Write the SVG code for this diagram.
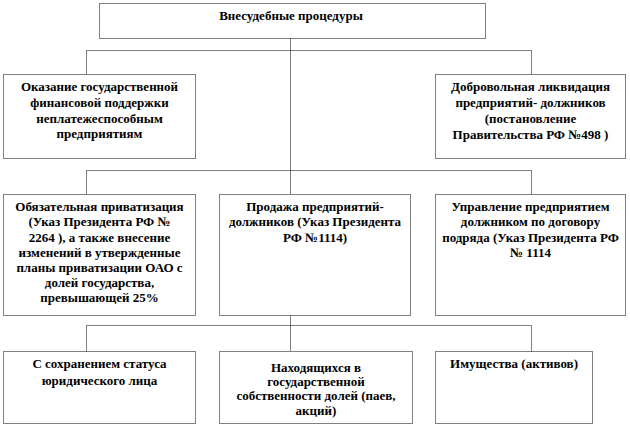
<svg xmlns="http://www.w3.org/2000/svg" width="630" height="426" viewBox="0 0 630 426">
<style>
.box{fill:#fff;stroke:#000;stroke-width:1;stroke-dasharray:1 1}
.ln{fill:none;stroke:#000;stroke-width:1;stroke-dasharray:1 1}
</style>
<rect width="630" height="426" fill="#fff"/>
<g id="connectors">
<path class="ln" d="M290.5 38.5V194.5"/>
<path class="ln" d="M86.5 74.5V50.5H531.5V74.5"/>
<path class="ln" d="M86.5 194.5V170.5H531.5V194.5"/>
<path class="ln" d="M290.5 315.5V351.5"/>
<path class="ln" d="M86.5 351.5V325.5H531.5V351.5"/>
</g>
<g font-family="Liberation Serif, serif" font-weight="bold" font-size="13" text-anchor="middle" fill="#000">
<g id="top">
<rect class="box" x="99.5" y="3.5" width="386" height="35"/>
<text x="291" y="20">Внесудебные  процедуры</text>
</g>
<g id="support">
<rect class="box" x="3.5" y="74.5" width="192" height="84"/>
<text x="99.5" y="91">Оказание  государственной</text>
<text x="99.5" y="107">финансовой поддержки</text>
<text x="99.5" y="123">неплатежеспособным</text>
<text x="99.5" y="138">предприятиям</text>
</g>
<g id="liquidation">
<rect class="box" x="435.5" y="74.5" width="190" height="84"/>
<text x="530.5" y="91">Добровольная ликвидация</text>
<text x="530.5" y="107">предприятий-  должников</text>
<text x="530.5" y="123">(постановление</text>
<text x="530.5" y="139">Правительства  РФ  №498  )</text>
</g>
<g id="privatization">
<rect class="box" x="3.5" y="194.5" width="192" height="121"/>
<text x="99.5" y="211">Обязательная  приватизация</text>
<text x="99.5" y="226">(Указ Президента РФ №</text>
<text x="99.5" y="242">2264  ), а также внесение</text>
<text x="99.5" y="257">изменений в утвержденные</text>
<text x="99.5" y="272">планы приватизации ОАО с</text>
<text x="99.5" y="287">долей государства,</text>
<text x="99.5" y="302">превышающей 25%</text>
</g>
<g id="sale">
<rect class="box" x="219.5" y="194.5" width="191" height="121"/>
<text x="315" y="211">Продажа предприятий-</text>
<text x="315" y="226">должников (Указ Президента</text>
<text x="315" y="242">РФ №1114)</text>
</g>
<g id="management">
<rect class="box" x="435.5" y="194.5" width="190" height="121"/>
<text x="530.5" y="211">Управление  предприятием</text>
<text x="530.5" y="226">должником по договору</text>
<text x="530.5" y="242">подряда (Указ Президента  РФ</text>
<text x="530.5" y="257">№ 1114</text>
</g>
<g id="status">
<rect class="box" x="3.5" y="351.5" width="192" height="72"/>
<text x="99.5" y="368">С сохранением статуса</text>
<text x="99.5" y="385">юридического лица</text>
</g>
<g id="shares">
<rect class="box" x="219.5" y="351.5" width="193" height="72"/>
<text x="316" y="372">Находящихся  в</text>
<text x="316" y="386">государственной</text>
<text x="316" y="400">собственности долей (паев,</text>
<text x="316" y="415">акций)</text>
</g>
<g id="assets">
<rect class="box" x="435.5" y="351.5" width="157" height="72"/>
<text x="514" y="368">Имущества (активов)</text>
</g>
</g>
</svg>
